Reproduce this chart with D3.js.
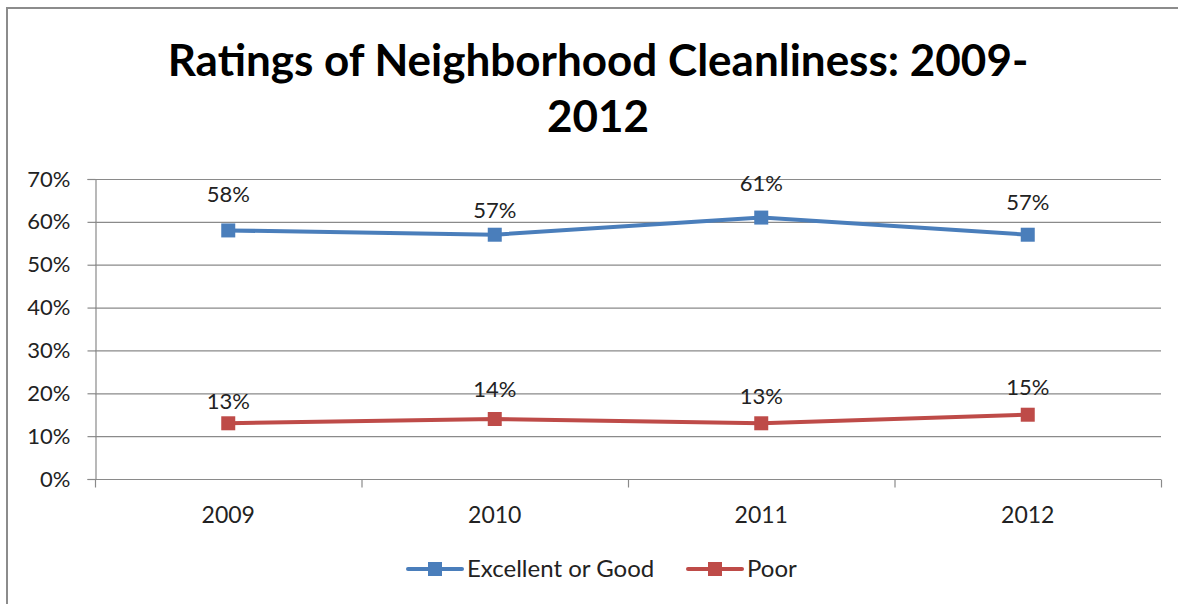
<!DOCTYPE html>
<html>
<head>
<meta charset="utf-8">
<script src="https://cdn.jsdelivr.net/npm/d3@7"></script>
<style>
  html, body { margin: 0; padding: 0; background: #fff; }
  svg { display: block; }
  text { font-family: Lato, "Open Sans", sans-serif; }
</style>
</head>
<body>
<svg id="chart" width="1178" height="604"></svg>
<script>
// ---- Data ----
const years = ["2009", "2010", "2011", "2012"];
const excellentOrGood = [0.58, 0.57, 0.61, 0.57];
const poor = [0.13, 0.14, 0.13, 0.15];
const seriesNames = ["Excellent or Good", "Poor"];
const yTicks = [0, 0.1, 0.2, 0.3, 0.4, 0.5, 0.6, 0.7];
const titleLines = ["Ratings of Neighborhood Cleanliness: 2009-", "2012"];

// ---- Layout ----
const W = 1178, H = 604;
const plot = { left: 95, right: 1161, top: 179, bottom: 479 };
const colors = ["#4A7EBB", "#BE4B48"];
const labelLift = [[36, 25, 35, 33], [22, 30, 27, 28]];

const svg = d3.select("#chart");

// outer border (chart area extends past right and bottom of the picture)
svg.append("rect")
  .attr("x", 7).attr("y", 8).attr("width", W + 20).attr("height", H + 20)
  .attr("fill", "#fff").attr("stroke", "#8c8c8c").attr("stroke-width", 2);

// title
const title = svg.append("text")
  .attr("text-anchor", "middle")
  .attr("font-weight", "bold")
  .attr("font-size", 44)
  .attr("fill", "#000");
title.selectAll("tspan").data(titleLines).join("tspan")
  .attr("x", 598)
  .attr("y", (d, i) => 76 + i * 56)
  .text(d => d);

const x = d3.scaleBand().domain(years).range([plot.left, plot.right]).padding(0);
const y = d3.scaleLinear().domain([0, 0.7]).range([plot.bottom, plot.top]);

// gridlines
svg.append("g").selectAll("line").data(yTicks.filter(t => t > 0)).join("line")
  .attr("x1", plot.left).attr("x2", plot.right)
  .attr("y1", d => y(d) + 0.5).attr("y2", d => y(d) + 0.5)
  .attr("stroke", "#8a8a8a").attr("stroke-width", 1.2);

// y axis
const yAxis = svg.append("g")
  .attr("transform", `translate(${plot.left + 0.5},0)`)
  .call(d3.axisLeft(y).tickValues(yTicks).tickFormat(d3.format(".0%")).tickSize(8).tickPadding(17));
yAxis.select(".domain").attr("stroke", "#8a8a8a").attr("stroke-width", 1.2);
yAxis.selectAll(".tick line").attr("stroke", "#8a8a8a").attr("stroke-width", 1.2);
yAxis.selectAll(".tick text")
  .attr("font-size", 22).attr("fill", "#222")
  .style("font-family", "Lato, 'Open Sans', sans-serif");
yAxis.selectAll(".tick").attr("transform", d => `translate(0,${y(d) + 0.5})`);

// x axis: ticks between categories
const xAxisG = svg.append("g").attr("transform", `translate(0,${plot.bottom + 0.5})`);
xAxisG.append("line")
  .attr("x1", plot.left).attr("x2", plot.right)
  .attr("stroke", "#8a8a8a").attr("stroke-width", 1.2);
const boundaries = years.map(d => x(d)).concat([x(years[years.length - 1]) + x.bandwidth()]);
xAxisG.selectAll("line.tk").data(boundaries).join("line").attr("class", "tk")
  .attr("x1", d => d + 0.5).attr("x2", d => d + 0.5)
  .attr("y1", 0).attr("y2", 8)
  .attr("stroke", "#8a8a8a").attr("stroke-width", 1.2);
xAxisG.selectAll("text").data(years).join("text")
  .attr("x", d => x(d) + x.bandwidth() / 2)
  .attr("y", 43)
  .attr("text-anchor", "middle")
  .attr("font-size", 23).attr("fill", "#222")
  .text(d => d);

// series
const series = [excellentOrGood, poor];
const line = d3.line().x((d, i) => x(years[i]) + x.bandwidth() / 2).y(d => y(d));

series.forEach((vals, s) => {
  const g = svg.append("g");
  g.append("path").datum(vals)
    .attr("d", line)
    .attr("fill", "none")
    .attr("stroke", colors[s])
    .attr("stroke-width", 4)
    .attr("stroke-linejoin", "round");
  g.selectAll("rect").data(vals).join("rect")
    .attr("x", (d, i) => x(years[i]) + x.bandwidth() / 2 - 7)
    .attr("y", d => y(d) - 7)
    .attr("width", 14).attr("height", 14)
    .attr("fill", colors[s]);
  g.selectAll("text").data(vals).join("text")
    .attr("x", (d, i) => x(years[i]) + x.bandwidth() / 2)
    .attr("y", (d, i) => y(d) - labelLift[s][i] + 8)
    .attr("text-anchor", "middle")
    .attr("font-size", 22).attr("fill", "#222")
    .text(d => d3.format(".0%")(d));
});

// legend
const legendY = 569;
const legendItems = [
  { name: seriesNames[0], color: colors[0], x0: 408 },
  { name: seriesNames[1], color: colors[1], x0: 688 }
];
const lg = svg.append("g");
legendItems.forEach(it => {
  lg.append("line")
    .attr("x1", it.x0).attr("x2", it.x0 + 54)
    .attr("y1", legendY).attr("y2", legendY)
    .attr("stroke", it.color).attr("stroke-width", 4).attr("stroke-linecap", "round");
  lg.append("rect")
    .attr("x", it.x0 + 27 - 7).attr("y", legendY - 7)
    .attr("width", 14).attr("height", 14).attr("fill", it.color);
  lg.append("text")
    .attr("x", it.x0 + 59).attr("y", legendY + 8)
    .attr("font-size", 24).attr("fill", "#222")
    .text(it.name);
});
</script>
</body>
</html>
